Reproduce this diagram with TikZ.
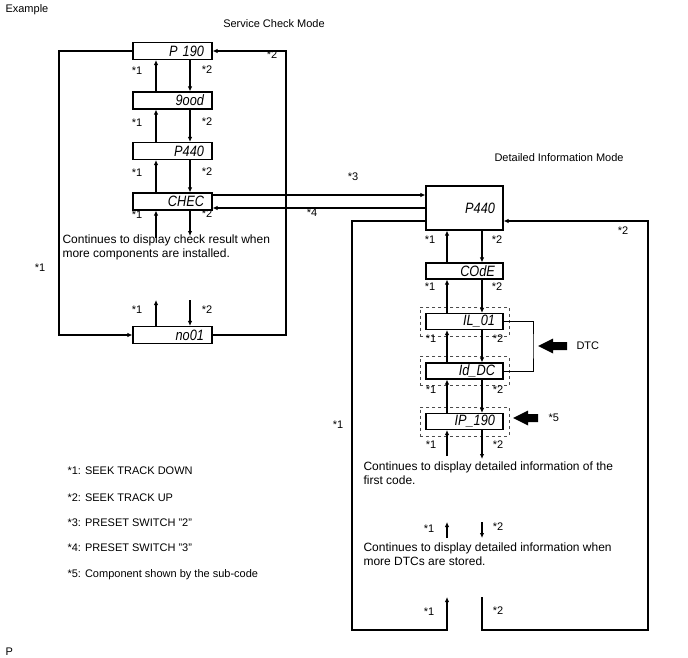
\documentclass[tikz,border=0pt]{standalone}
\usepackage{fontspec}
\setmainfont{Liberation Sans}
\newfontfamily\segfam{Liberation Sans}[FakeStretch=0.85]
\usetikzlibrary{calc,fit,arrows.meta}
\newcommand\segfont{\segfam\fontsize{15pt}{15pt}\selectfont\itshape}
\newcommand\fatarrow[2]{\fill (#1) -- ++(15,-7.5) -- ++(0,3.5) -- ++(#2,0) -- ++(0,8) -- ++(-#2,0) -- ++(0,3.5) -- cycle;}

\begin{document}
\begin{tikzpicture}[x=1pt,y=-1pt,font=\fontsize{11pt}{13pt}\selectfont,
    disp/.style={draw, line width=1.1pt, text width=63pt, align=right, minimum height=17pt, inner xsep=8pt, inner ysep=0pt, font=\segfont},
    dispr/.style={disp, text width=61pt, minimum height=16pt},
    dbox/.style={draw, dashed, line width=0.7pt, gray!60!black, inner xsep=5.5pt, inner ysep=6pt},
    note/.style={anchor=west, align=left, font=\fontsize{12pt}{14pt}\selectfont},
    arr/.style={line width=1.2pt, -{Latex[length=5pt,width=4.5pt]}},
    conn/.style={line width=1.2pt}]
    \useasboundingbox (0,0) rectangle (688,658);
    \coordinate (uL) at (156,0);
    \coordinate (dL) at (190,0);
    \coordinate (uR) at (447,0);
    \coordinate (dR) at (482,0);

    \node[anchor=west] (ex) at (2,10) {Example};
    \node (scm) at (274,24) {Service Check Mode};
    \node[anchor=west] (dim) at (491,158) {Detailed Information Mode};
    \node[anchor=west] (pp) at (2,652) {P};

    % service check mode
    \node[disp] (p190) at (172.5,51) {P 190};
    \node[disp] (good) at (172.5,100.5) {9ood};
    \node[disp] (p440) at (172.5,151) {P440};
    \node[disp] (chec) at (172.5,201.5) {CHEC};
    \node[disp] (no01) at (172.5,335) {no01};
    \foreach \a/\b in {p190/good, good/p440, p440/chec} {
      \draw[arr] (\b.north -| uL) -- (\a.south -| uL);
      \draw[arr] (\a.south -| dL) -- (\b.north -| dL);
    }
    \coordinate (c1) at (156,238);
    \coordinate (c2) at (190,236);
    \coordinate (c3) at (156,300);
    \coordinate (c4) at (190,300);
    \draw[arr] (c1) -- (chec.south -| uL);
    \draw[arr] (chec.south -| dL) -- (c2);
    \draw[arr] (no01.north -| uL) -- (c3);
    \draw[arr] (c4) -- (no01.north -| dL);
    \node[note] (t1) at (59,247.5) {Continues to display check result when\\more components are installed.};
    \coordinate (lloop) at (59,200);
    \coordinate (rloop) at (286,200);
    \draw[conn, arr] (p190.west) -| (lloop) |- (no01.west);
    \draw[conn, arr] (no01.east) -| (rloop) |- (p190.east);

    % detailed information mode
    \node[dispr, minimum height=44pt] (big) at (464.5,208) {P440};
    \node[dispr] (code) at (464.5,271) {COdE};
    \node[dispr] (il) at (464.5,321.5) {IL\_01};
    \node[dispr] (iddc) at (464.5,371) {Id\_DC};
    \node[dispr] (ip) at (464.5,421.5) {IP\_190};
    \node[dbox, fit=(il)] (ilf) {};
    \node[dbox, fit=(iddc)] (iddcf) {};
    \node[dbox, fit=(ip)] (ipf) {};
    \foreach \a/\b in {big/code, code/il, il/iddc, iddc/ip} {
      \draw[arr] (\b.north -| uR) -- (\a.south -| uR);
      \draw[arr] (\a.south -| dR) -- (\b.north -| dR);
    }
    \coordinate (s3) at (300,195);
    \coordinate (s4) at (300,208);
    \draw[arr] (chec.east |- s3) -- (big.west |- s3);
    \draw[arr] (big.west |- s4) -- (chec.east |- s4);

    \coordinate (d1) at (447,456);
    \coordinate (d2) at (482,459);
    \draw[arr] (d1) -- (ip.south -| uR);
    \draw[arr] (ip.south -| dR) -- (d2);
    \node[note] (t2) at (360,473) {Continues to display detailed information of the\\first code.};
    \coordinate (e1) at (447,538);
    \coordinate (e2) at (447,522);
    \coordinate (e3) at (482,522);
    \coordinate (e4) at (482,538);
    \draw[arr] (e1) -- (e2);
    \draw[arr] (e3) -- (e4);
    \node[note] (t3) at (360,554.5) {Continues to display detailed information when\\more DTCs are stored.};

    \coordinate (rl) at (500,221);
    \coordinate (bl) at (352,630);
    \coordinate (bu1) at (447,597);
    \coordinate (bu2) at (482,597);
    \coordinate (br) at (648,630);
    \draw[arr] (big.west |- rl) -| (bl) -| (bu1);
    \draw[arr] (bu2) |- (br) |- (big.east |- rl);

    \coordinate (dtcx) at (533,346);
    \draw[line width=0.8pt] (il.east) -| (dtcx) |- (iddc.east);
    \coordinate (dtctip) at (538,346);
    \fatarrow{dtctip}{14}
    \node[anchor=west] (dtc) at (573,346) {DTC};
    \coordinate (s5tip) at (513,418);
    \fatarrow{s5tip}{10}
    \node[anchor=west] (s5) at (545,418) {*5};

    % step labels
    \foreach \x/\y/\t [count=\i] in {137/71/1, 207/70/2, 137/123/1, 207/122/2, 137/173/1, 207/172/2,
        137/215/1, 207/214/2, 137/310/1, 207/310/2, 272/55/2, 40/268/1, 353/177/3, 312/213/4,
        430/240/1, 497/240/2, 430/287/1, 497/287/2, 431/339/1, 498/339/2, 431/390/1, 498/390/2,
        431/445/1, 498/445/2, 429/529/1, 498/527/2, 429/612/1, 498/611/2, 623/231/2, 338/425/1}
      \node (st\i) at (\x,\y) {*\t};

    % legend
    \node[anchor=west] (k1) at (64,471) {*1: SEEK TRACK DOWN};
    \node[anchor=west] (k2) at (64,498) {*2: SEEK TRACK UP};
    \node[anchor=west] (k3) at (64,523) {*3: PRESET SWITCH "2"};
    \node[anchor=west] (k4) at (64,548) {*4: PRESET SWITCH "3"};
    \node[anchor=west] (k5) at (64,575) {*5: Component shown by the sub-code};
\end{tikzpicture}
\end{document}
